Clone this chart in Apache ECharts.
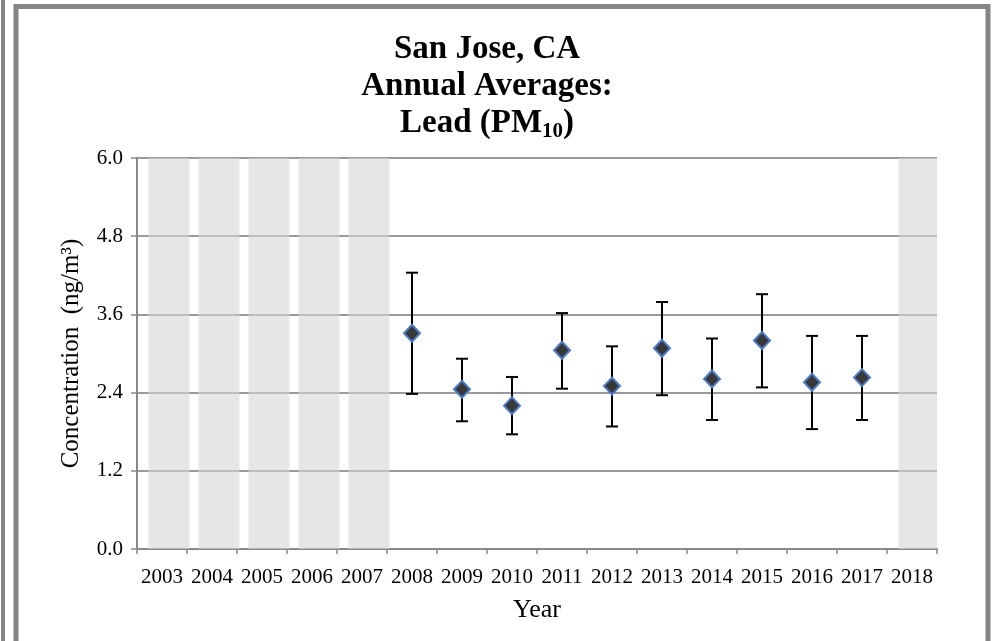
<!DOCTYPE html>
<html>
<head>
<meta charset="utf-8">
<script src="https://cdn.jsdelivr.net/npm/echarts@6/dist/echarts.min.js"></script>
<style>
html,body{margin:0;padding:0;background:#fff;}
#chart{width:996px;height:641px;}
</style>
</head>
<body>
<div id="chart"></div>
<script>
const years = ['2003','2004','2005','2006','2007','2008','2009','2010','2011','2012','2013','2014','2015','2016','2017','2018'];
const yTicks = [0, 1.2, 2.4, 3.6, 4.8, 6.0];
// shaded (no-data) years: full-height background bars
const shadedYears = ['2003','2004','2005','2006','2007','2018'];
const measuredYears = ['2008','2009','2010','2011','2012','2013','2014','2015','2016','2017'];
const means = [3.31, 2.45, 2.20, 3.05, 2.50, 3.08, 2.61, 3.20, 2.56, 2.63];
const lows  = [2.38, 1.96, 1.76, 2.46, 1.88, 2.36, 1.98, 2.48, 1.84, 1.98];
const highs = [4.24, 2.92, 2.64, 3.62, 3.11, 3.79, 3.23, 3.91, 3.27, 3.27];

const serif = '"Liberation Serif","Times New Roman",serif';
const shadeData = years.map(y => shadedYears.includes(y) ? yTicks[yTicks.length-1] : null);
const meanData = measuredYears.map((y,i) => [y, means[i]]);
const errData = measuredYears.map((y,i) => [y, lows[i], highs[i]]);

const chart = echarts.init(document.getElementById('chart'));
chart.setOption({
  animation: false,
  backgroundColor: '#ffffff',
  graphic: [
    { type: 'rect', shape: { x: 1, y: 0, width: 4, height: 641 }, style: { fill: '#858585' }, z: 100 },
    { type: 'rect', shape: { x: 16, y: 6.5, width: 972, height: 660 }, style: { fill: 'none', stroke: '#858585', lineWidth: 5 }, z: 100 }
  ],
  title: {
    text: '{a|San Jose, CA}\n{a|Annual Averages:}\n{a|Lead (PM}{s|10}{a|)}',
    left: 482, top: 26, textAlign: 'center',
    textStyle: {
      rich: {
        a: { fontFamily: serif, fontWeight: 'bold', fontSize: 33, color: '#000', lineHeight: 37 },
        s: { fontFamily: serif, fontWeight: 'bold', fontSize: 21, color: '#000', lineHeight: 37, verticalAlign: 'bottom', padding: [16,0,0,0] }
      }
    }
  },
  grid: { left: 137, right: 59, top: 158, bottom: 92 },
  xAxis: {
    type: 'category', data: years, boundaryGap: true,
    name: 'Year', nameLocation: 'middle', nameGap: 48,
    nameTextStyle: { fontFamily: serif, fontSize: 26, color: '#000' },
    axisLine: { lineStyle: { color: '#888', width: 2 } },
    axisTick: { show: true, length: 5, alignWithLabel: false, lineStyle: { color: '#888', width: 1.5 } },
    axisLabel: { fontFamily: serif, fontSize: 21, color: '#000', margin: 18, interval: 0 },
    splitLine: { show: false }
  },
  yAxis: {
    type: 'value', min: 0, max: 6, interval: 1.2,
    name: 'Concentration  (ng/m³)', nameLocation: 'middle', nameGap: 53,
    nameTextStyle: { fontFamily: serif, fontSize: 25, color: '#000' },
    axisLine: { show: true, lineStyle: { color: '#888', width: 2 } },
    axisTick: { show: true, length: 6, lineStyle: { color: '#888', width: 1.5 } },
    axisLabel: { fontFamily: serif, fontSize: 21, color: '#000', margin: 14, formatter: v => v.toFixed(1) },
    splitLine: { show: true, lineStyle: { color: '#9a9a9a', width: 2 } }
  },
  series: [
    { type: 'bar', data: years.map(() => null), barWidth: 41, barGap: '-66%', silent: true },
    { type: 'bar', data: shadeData, barWidth: 41, barGap: '-66%', itemStyle: { color: '#d6d6d6', opacity: 0.6 }, z: 3, silent: true },
    {
      type: 'custom', z: 5,
      renderItem: function (params, api) {
        const x = api.value(0);
        const lo = api.coord([x, api.value(1)]);
        const hi = api.coord([x, api.value(2)]);
        const cw = 6;
        const st = { stroke: '#000', lineWidth: 2 };
        return {
          type: 'group',
          children: [
            { type: 'line', shape: { x1: lo[0], y1: lo[1], x2: hi[0], y2: hi[1] }, style: st },
            { type: 'line', shape: { x1: lo[0]-cw, y1: lo[1], x2: lo[0]+cw, y2: lo[1] }, style: st },
            { type: 'line', shape: { x1: hi[0]-cw, y1: hi[1], x2: hi[0]+cw, y2: hi[1] }, style: st }
          ]
        };
      },
      encode: { x: 0, y: [1, 2] },
      data: errData
    },
    {
      type: 'scatter', z: 10, symbol: 'diamond', symbolSize: [16, 17],
      itemStyle: { color: '#383838', borderColor: '#4a7bc8', borderWidth: 2, opacity: 1 },
      data: meanData
    }
  ]
});
</script>
</body>
</html>
